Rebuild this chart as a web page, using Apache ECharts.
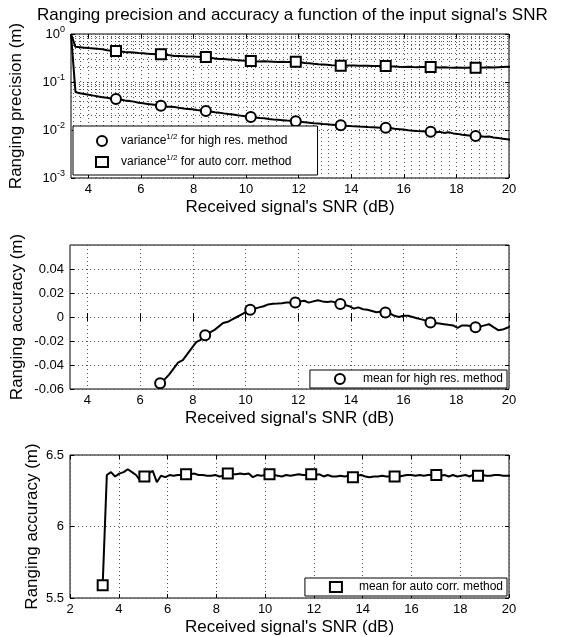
<!DOCTYPE html>
<html>
<head>
<meta charset="utf-8">
<script src="https://cdn.jsdelivr.net/npm/echarts@6/dist/echarts.min.js"></script>
<style>
  html, body { margin: 0; padding: 0; background: #fff; }
  #chart { width: 563px; height: 637px; }
</style>
</head>
<body>
<div id="chart"></div>
<script>
// received SNR (dB), one sample every ~0.171 dB
const snr = [
  3.34, 3.51, 3.68, 3.85, 4.02, 4.20, 4.37, 4.54, 4.71, 4.88,
  5.05, 5.22, 5.39, 5.56, 5.73, 5.91, 6.08, 6.25, 6.42, 6.59,
  6.76, 6.93, 7.10, 7.27, 7.44, 7.62, 7.79, 7.96, 8.13, 8.30,
  8.47, 8.64, 8.81, 8.98, 9.15, 9.33, 9.50, 9.67, 9.84, 10.01,
  10.18, 10.35, 10.52, 10.69, 10.86, 11.04, 11.21, 11.38, 11.55, 11.72,
  11.89, 12.06, 12.23, 12.40, 12.57, 12.75, 12.92, 13.09, 13.26, 13.43,
  13.60, 13.77, 13.94, 14.11, 14.28, 14.46, 14.63, 14.80, 14.97, 15.14,
  15.31, 15.48, 15.65, 15.82, 15.99, 16.17, 16.34, 16.51, 16.68, 16.85,
  17.02, 17.19, 17.36, 17.53, 17.70, 17.88, 18.05, 18.22, 18.39, 18.56,
  18.73, 18.90, 19.07, 19.24, 19.41, 19.59, 19.76, 19.93, 20.10
];

// variance^(1/2), high resolution method (m)
const precisionHighRes = [
  1.0, 0.062, 0.058, 0.056, 0.054, 0.052, 0.050, 0.048, 0.047, 0.045,
  0.044, 0.043, 0.041, 0.040, 0.039, 0.037, 0.036, 0.035, 0.034, 0.033,
  0.032, 0.031, 0.0305, 0.030, 0.029, 0.028, 0.0275, 0.027, 0.026, 0.0255,
  0.025, 0.0243, 0.0235, 0.023, 0.0222, 0.0215, 0.021, 0.0203, 0.0197, 0.0192,
  0.0187, 0.0183, 0.0178, 0.0175, 0.0170, 0.0166, 0.0163, 0.0160, 0.0157, 0.0155,
  0.0152, 0.0148, 0.0145, 0.0142, 0.0139, 0.0136, 0.0133, 0.0131, 0.0129, 0.0127,
  0.0125, 0.0122, 0.0121, 0.0119, 0.0118, 0.0117, 0.0115, 0.0114, 0.0113, 0.0112,
  0.0112, 0.0110, 0.0106, 0.0104, 0.0102, 0.0099, 0.0097, 0.0095, 0.0094, 0.0093,
  0.0092, 0.0089, 0.0092, 0.0087, 0.0090, 0.0085, 0.0083, 0.0080, 0.0078, 0.0076,
  0.0075, 0.0074, 0.0072, 0.0073, 0.0070, 0.0068, 0.0066, 0.0064, 0.0062
];

// variance^(1/2), auto correlation method (m)
const precisionAutoCorr = [
  1.0, 0.54, 0.53, 0.52, 0.51, 0.50, 0.49, 0.48, 0.46, 0.45,
  0.44, 0.43, 0.42, 0.415, 0.41, 0.40, 0.395, 0.39, 0.385, 0.38,
  0.38, 0.37, 0.36, 0.35, 0.35, 0.345, 0.34, 0.34, 0.335, 0.33,
  0.33, 0.32, 0.31, 0.30, 0.30, 0.295, 0.29, 0.285, 0.28, 0.278,
  0.274, 0.27, 0.268, 0.27, 0.268, 0.265, 0.262, 0.265, 0.262, 0.26,
  0.265, 0.258, 0.25, 0.245, 0.24, 0.235, 0.232, 0.228, 0.224, 0.222,
  0.219, 0.218, 0.22, 0.221, 0.219, 0.217, 0.218, 0.216, 0.215, 0.216,
  0.215, 0.212, 0.21, 0.207, 0.205, 0.207, 0.205, 0.204, 0.206, 0.205,
  0.205, 0.203, 0.2, 0.202, 0.2, 0.198, 0.2, 0.199, 0.198, 0.2,
  0.199, 0.197, 0.2, 0.202, 0.2, 0.203, 0.205, 0.207, 0.208
];

// mean ranging error, high resolution method (m); below the axis before 6.8 dB
const meanHighRes = [
  null, null, null, null, null, null, null, null, null, null,
  null, null, null, null, null, null, null, null, null, null,
  -0.0553, -0.052, -0.048, -0.043, -0.038, -0.036, -0.031, -0.026, -0.021, -0.019,
  -0.0153, -0.013, -0.011, -0.008, -0.005, -0.004, -0.002, 0.000, 0.002, 0.004,
  0.006, 0.007, 0.008, 0.009, 0.0105, 0.011, 0.0112, 0.0115, 0.012, 0.012,
  0.0121, 0.013, 0.0135, 0.012, 0.013, 0.014, 0.013, 0.0125, 0.013, 0.012,
  0.0108, 0.010, 0.009, 0.007, 0.008, 0.0065, 0.006, 0.005, 0.004, 0.0045,
  0.0038, 0.003, 0.001, 0.000, 0.001, 0.001, 0.000, -0.001, -0.002, -0.003,
  -0.0045, -0.005, -0.0055, -0.006, -0.0065, -0.007, -0.009, -0.007, -0.007, -0.0075,
  -0.0086, -0.008, -0.007, -0.006, -0.0085, -0.011, -0.0105, -0.009, -0.007
];

// mean ranging result, auto correlation method (m)
const meanAutoCorr = [
  5.59, 6.36, 6.38, 6.35, 6.37, 6.38, 6.40, 6.38, 6.36, 6.32,
  6.35, 6.37, 6.39, 6.31, 6.355, 6.345, 6.36, 6.355, 6.36, 6.36,
  6.365, 6.365, 6.37, 6.36, 6.36, 6.355, 6.355, 6.36, 6.35, 6.355,
  6.37, 6.365, 6.365, 6.37, 6.365, 6.37, 6.345, 6.36, 6.355, 6.36,
  6.365, 6.36, 6.355, 6.35, 6.36, 6.355, 6.36, 6.365, 6.36, 6.36,
  6.365, 6.36, 6.365, 6.35, 6.36, 6.35, 6.35, 6.355, 6.35, 6.355,
  6.345, 6.355, 6.36, 6.35, 6.345, 6.35, 6.35, 6.355, 6.35, 6.35,
  6.35, 6.35, 6.355, 6.36, 6.36, 6.355, 6.36, 6.355, 6.36, 6.36,
  6.36, 6.355, 6.36, 6.35, 6.36, 6.35, 6.355, 6.36, 6.35, 6.365,
  6.355, 6.36, 6.355, 6.355, 6.36, 6.36, 6.355, 6.355, 6.355
];

const snrTicks = [4, 6, 8, 10, 12, 14, 16, 18, 20];
const nameHighVar = 'variance^(1/2) for high res. method';
const nameAutoVar = 'variance^(1/2) for auto corr. method';
const nameHighMean = 'mean for high res. method';
const nameAutoMean = 'mean for auto corr. method';

const FONT = 'Liberation Sans, Arial, Helvetica, sans-serif';
const dotted = { type: [1, 3], color: '#555', width: 1 };
const TICK = 13, NAME = 17, LEG = 12;

// minor grid of the log plot (2..9 per decade, 7 steps per major x step)
const yMinorGrid = [];
[0.001, 0.01, 0.1].forEach(d => { for (let k = 2; k <= 9; k++) yMinorGrid.push(+(d * k).toPrecision(3)); });
const xMinorGrid = [];
for (let k = -2; k < 56; k++) {
  if (k % 7 === 0) continue;
  const v = 4 + k * 2 / 7;
  if (v > 3.34 && v < 20) xMinorGrid.push(v);
}

const pairs = arr => snr.map((x, i) => [x, arr[i]]);
const markers = (arr, first) => snr.map((x, i) => [x, arr[i]])
  .filter((p, i) => i >= first && i % 10 === 0 && p[1] != null);

function curve(arr, gi) {
  return {
    type: 'line', xAxisIndex: gi, yAxisIndex: gi, data: pairs(arr),
    symbol: 'none', showSymbol: false, silent: true, z: 10, clip: true,
    lineStyle: { color: '#000', width: 2 }
  };
}
function marks(name, arr, first, shape, gi) {
  return {
    type: 'scatter', name, xAxisIndex: gi, yAxisIndex: gi, data: markers(arr, first),
    symbol: shape, symbolSize: 10, silent: true, z: 11, clip: true,
    itemStyle: { color: '#fff', borderColor: '#000', borderWidth: 2, opacity: 1 }
  };
}

const supRich = {
  t: { fontSize: LEG, fontFamily: FONT, color: '#000' },
  s: { fontSize: 8, fontFamily: FONT, color: '#000', padding: [0, 0, 8, 0] }
};
function legendLabel(n) {
  if (n.indexOf('^(1/2)') < 0) return n;
  const parts = n.split('^(1/2)');
  return '{t|' + parts[0] + '}{s|1/2}{t|' + parts[1] + '}';
}

function xAxisCfg(gi, min, custom) {
  const cfg = {
    type: 'value', gridIndex: gi, min: min, max: 20,
    name: "Received signal's SNR (dB)", nameLocation: 'middle', nameGap: 21,
    nameTextStyle: { fontSize: NAME, fontFamily: FONT, color: '#000' },
    axisLine: { show: false },
    axisTick: { show: true, inside: true, length: 4, lineStyle: { color: '#000' } },
    axisLabel: { fontSize: TICK, fontFamily: FONT, color: '#000', margin: 5 },
    splitLine: { show: true, lineStyle: dotted }
  };
  if (custom) {
    cfg.axisTick.customValues = snrTicks;
    cfg.axisLabel.customValues = snrTicks;
  } else {
    cfg.interval = 2;
  }
  return cfg;
}
// mirrored ticks on the top edge of the box
function xTopCfg(gi, min, custom) {
  const cfg = xAxisCfg(gi, min, custom);
  cfg.position = 'top';
  cfg.name = '';
  cfg.axisLabel.show = false;
  cfg.splitLine = { show: false };
  return cfg;
}

function yAxisBase(gi, gap) {
  return {
    gridIndex: gi, name: 'Ranging accuracy (m)', nameLocation: 'middle', nameGap: gap,
    nameMoveOverlap: false,
    nameTextStyle: { fontSize: NAME, fontFamily: FONT, color: '#000' },
    axisLine: { show: false },
    axisTick: { inside: true, length: 4, lineStyle: { color: '#000' } },
    axisLabel: { fontSize: TICK, fontFamily: FONT, color: '#000', margin: 6 },
    splitLine: { show: true, lineStyle: dotted }
  };
}

const yTop = Object.assign(yAxisBase(0, 46), {
  type: 'log', logBase: 10, min: 0.001, max: 1, name: 'Ranging precision (m)'
});
yTop.axisLabel = {
  margin: 6,
  formatter: v => '{b|10}{s|' + Math.round(Math.log10(v)) + '}',
  rich: {
    b: { fontSize: TICK, fontFamily: FONT, color: '#000' },
    s: { fontSize: 9, fontFamily: FONT, color: '#000', padding: [0, 0, 9, 0] }
  }
};
const yMid = Object.assign(yAxisBase(1, 44), { type: 'value', min: -0.06, max: 0.06, interval: 0.02 });
yMid.axisLabel.showMaxLabel = false;
const yBot = Object.assign(yAxisBase(2, 29), { type: 'value', min: 5.5, max: 6.5, interval: 0.5 });

// mirrored ticks on the right edge of the box
function yRight(base) {
  const cfg = Object.assign({}, base, {
    position: 'right', name: '',
    axisLabel: { show: false },
    splitLine: { show: false }
  });
  return cfg;
}

const legendBase = {
  orient: 'vertical', itemWidth: 12, itemHeight: 10, z: 20,
  backgroundColor: '#fff', borderColor: '#000', borderWidth: 1, selectedMode: false,
  itemStyle: { color: '#fff', borderColor: '#000', borderWidth: 2, opacity: 1 }
};

const chart = echarts.init(document.getElementById('chart'), null, { renderer: 'canvas' });
chart.setOption({
  animation: false,
  backgroundColor: '#fff',
  textStyle: { fontFamily: FONT },
  title: {
    text: "Ranging precision and accuracy a function of the input signal's SNR",
    left: 32, top: 2,
    textStyle: { fontSize: NAME, fontWeight: 'normal', fontFamily: FONT, color: '#000' }
  },
  grid: [
    { left: 70, right: 54, top: 34, height: 144, show: true, borderColor: '#000', borderWidth: 1 },
    { left: 70, right: 54, top: 245, height: 144, show: true, borderColor: '#000', borderWidth: 1 },
    { left: 70, right: 54, top: 455, height: 144, show: true, borderColor: '#000', borderWidth: 1 }
  ],
  xAxis: [
    xAxisCfg(0, 3.34, true), xAxisCfg(1, 3.34, true), xAxisCfg(2, 2, false),
    xTopCfg(0, 3.34, true), xTopCfg(1, 3.34, true), xTopCfg(2, 2, false)
  ],
  yAxis: [yTop, yMid, yBot, yRight(yTop), yRight(yMid), yRight(yBot)],
  legend: [
    Object.assign({}, legendBase, {
      data: [nameHighVar, nameAutoVar], left: 73, top: 126,
      itemGap: 7, padding: [7, 26, 7, 22],
      formatter: legendLabel,
      textStyle: { fontSize: LEG, fontFamily: FONT, color: '#000', padding: [0, 0, 0, 8], rich: supRich }
    }),
    Object.assign({}, legendBase, {
      data: [nameHighMean], right: 56, top: 370, padding: [3, 4, 3, 24],
      textStyle: { fontSize: LEG, fontFamily: FONT, color: '#000', padding: [0, 0, 0, 12] }
    }),
    Object.assign({}, legendBase, {
      data: [nameAutoMean], right: 56, top: 578, padding: [3, 4, 3, 24],
      textStyle: { fontSize: LEG, fontFamily: FONT, color: '#000', padding: [0, 0, 0, 12] }
    })
  ],
  series: [
    {
      type: 'line', xAxisIndex: 0, yAxisIndex: 0, data: [], silent: true,
      markLine: {
        silent: true, symbol: ['none', 'none'], label: { show: false },
        lineStyle: dotted, animation: false,
        data: yMinorGrid.map(v => ({ yAxis: v })).concat(xMinorGrid.map(v => ({ xAxis: v })))
      }
    },
    curve(precisionAutoCorr, 0),
    curve(precisionHighRes, 0),
    marks(nameHighVar, precisionHighRes, 10, 'circle', 0),
    marks(nameAutoVar, precisionAutoCorr, 10, 'rect', 0),
    curve(meanHighRes, 1),
    marks(nameHighMean, meanHighRes, 20, 'circle', 1),
    curve(meanAutoCorr, 2),
    marks(nameAutoMean, meanAutoCorr, 0, 'rect', 2)
  ]
});
</script>
</body>
</html>
